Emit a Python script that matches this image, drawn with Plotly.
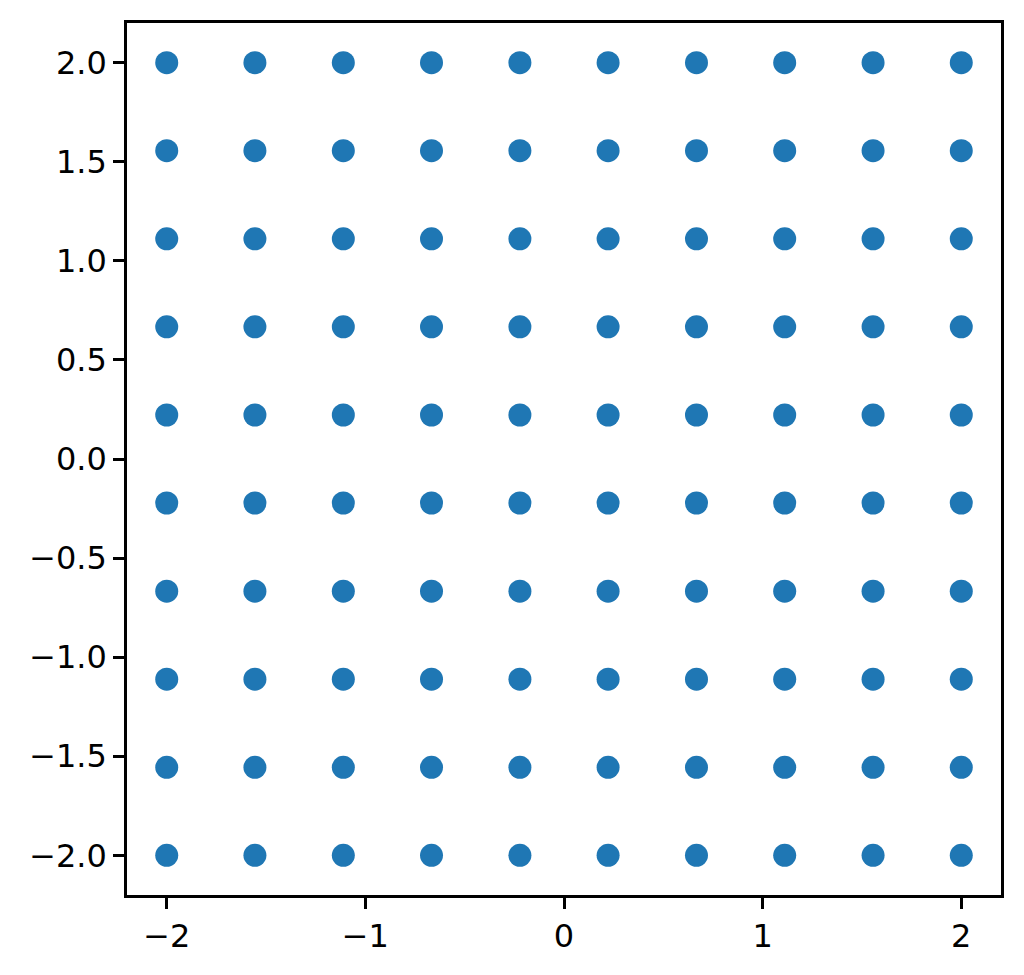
import plotly.graph_objects as go

# grid coordinates (10 evenly spaced values from -2 to 2)
x_values = [-2.0, -1.556, -1.111, -0.667, -0.222, 0.222, 0.667, 1.111, 1.556, 2.0]
y_values = [-2.0, -1.556, -1.111, -0.667, -0.222, 0.222, 0.667, 1.111, 1.556, 2.0]

x_ticks = [-2, -1, 0, 1, 2]
y_ticks = [-2.0, -1.5, -1.0, -0.5, 0.0, 0.5, 1.0, 1.5, 2.0]

xs = [x for y in y_values for x in x_values]
ys = [y for y in y_values for x in x_values]

fig = go.Figure(go.Scatter(
    x=xs, y=ys, mode="markers",
    marker=dict(color="#1f77b4", size=23, line=dict(width=0)),
    showlegend=False,
))

axis_common = dict(
    showgrid=False, zeroline=False, showline=True, linecolor="black", linewidth=2.5,
    mirror=True, ticks="outside", ticklen=11, tickwidth=2.5, tickcolor="black",
    tickfont=dict(family="DejaVu Sans", size=32, color="black"),
)

fig.update_layout(
    width=1016, height=967,
    margin=dict(l=119, r=23, t=12, b=80),
    paper_bgcolor="white", plot_bgcolor="white",
    xaxis=dict(range=[-2.2, 2.2], tickvals=x_ticks, tickformat="d", **axis_common),
    yaxis=dict(range=[-2.2, 2.2], tickvals=y_ticks, tickformat=".1f", **axis_common),
)

fig.write_html("out.html")
